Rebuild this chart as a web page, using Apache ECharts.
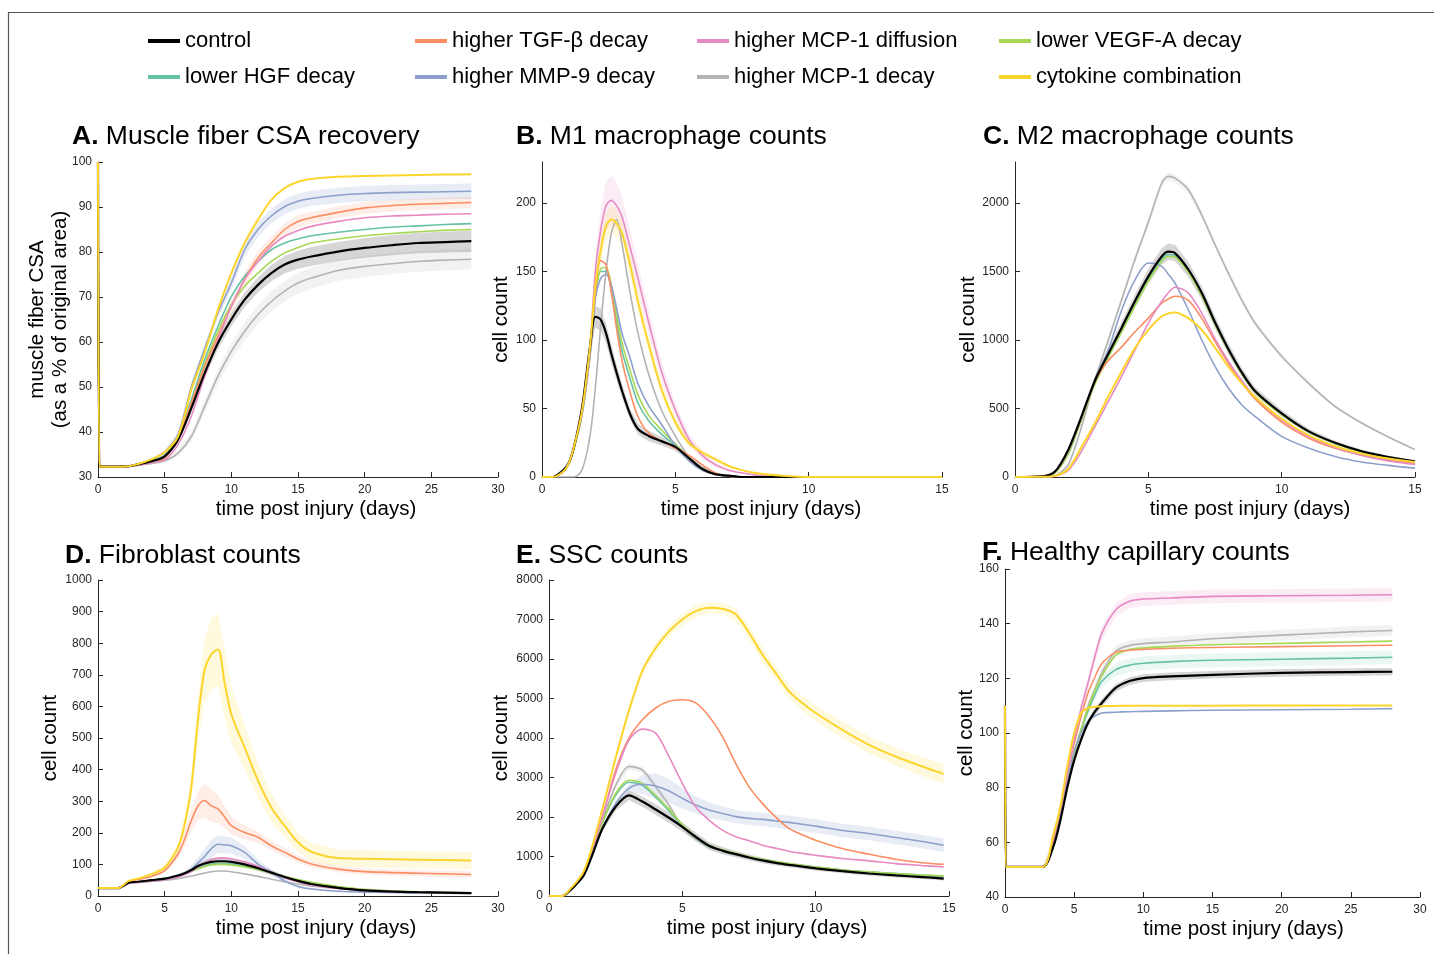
<!DOCTYPE html>
<html lang="en">
<head>
<meta charset="UTF-8">
<title>Cytokine perturbations: six outputs</title>
<script src="https://cdn.jsdelivr.net/npm/echarts@6/dist/echarts.min.js"></script>
<style>
  html, body { margin: 0; padding: 0; background: #fff; }
  #chart { width: 1434px; height: 954px; }
</style>
</head>
<body>
<div id="chart"></div>
<script type="text/javascript">
// series names / colours, in legend order
var seriesNames = ['control', 'higher TGF-β decay', 'higher MCP-1 diffusion', 'lower VEGF-A decay',
                   'lower HGF decay', 'higher MMP-9 decay', 'higher MCP-1 decay', 'cytokine combination'];
var seriesColors = ['#000000', '#fc8d62', '#e78ac3', '#a6d854', '#66c2a5', '#8da0cb', '#b3b3b3', '#fcd52c'];
var bandColors = ['rgba(0,0,0,0.16)', 'rgba(252,141,98,0.15)', 'rgba(231,138,195,0.16)', 'rgba(166,216,84,0.15)',
                  'rgba(102,194,165,0.13)', 'rgba(141,160,203,0.2)', 'rgba(150,170,150,0.14)', 'rgba(255,217,47,0.16)'];
// back to front
var drawOrder = [6, 4, 3, 5, 1, 2, 0, 7];

var panelTitles = ['A.|Muscle fiber CSA recovery', 'B.|M1 macrophage counts', 'C.|M2 macrophage counts',
                   'D.|Fibroblast counts', 'E.|SSC counts', 'F.|Healthy capillary counts'];
var xName = 'time post injury (days)';
var yNames = ['muscle fiber CSA\n(as a % of original area)', 'cell count', 'cell count', 'cell count', 'cell count', 'cell count'];

// ---- A. muscle fiber CSA
var aDays      = [0, 0.1, 0.2, 2, 3, 4, 5, 6, 7, 8, 9, 10, 11, 12, 13, 14, 15, 16, 18, 20, 22, 24, 26, 28];
var aControl   = [100, 32.3, 32.3, 32.3, 32.8, 33.5, 34.6, 38.3, 45.3, 53.1, 59.8, 65.0, 69.4, 72.7, 75.3, 77.2, 78.3, 79.0, 80.1, 80.9, 81.5, 82.0, 82.2, 82.4];
var aTgf       = [100, 32.3, 32.3, 32.3, 32.8, 33.4, 34.2, 38.7, 46.4, 54.6, 61.3, 67.9, 73.9, 78.7, 82.0, 85.0, 86.8, 87.6, 88.8, 89.8, 90.3, 90.6, 90.8, 91.0];
var aMcpDiff   = [100, 32.3, 32.3, 32.3, 32.6, 33.2, 33.8, 37.2, 43.5, 52.4, 60.5, 67.9, 73.9, 77.9, 81.3, 83.5, 84.8, 85.7, 86.8, 87.6, 88.0, 88.2, 88.4, 88.5];
var aVegf      = [100, 32.3, 32.3, 32.3, 32.8, 33.5, 34.6, 38.7, 46.4, 55.0, 62.4, 68.3, 72.4, 75.3, 77.9, 79.8, 81.0, 82.0, 82.9, 83.6, 84.1, 84.5, 84.8, 85.0];
var aHgf       = [100, 32.3, 32.3, 32.3, 32.8, 33.6, 34.8, 39.0, 47.2, 56.1, 63.5, 70.1, 74.6, 77.9, 80.5, 82.0, 82.9, 83.6, 84.4, 85.0, 85.5, 85.8, 86.1, 86.3];
var aMmp       = [100, 32.3, 32.3, 32.3, 32.9, 33.9, 35.6, 39.5, 50.0, 58.5, 66.5, 73.1, 80.5, 85.0, 88.0, 90.1, 91.3, 91.9, 92.6, 93.0, 93.2, 93.3, 93.4, 93.5];
var aMcpDecay  = [100, 32.3, 32.3, 32.3, 32.6, 33.0, 33.6, 35.3, 39.0, 45.7, 52.4, 57.9, 62.4, 66.1, 69.0, 71.3, 73.1, 74.2, 75.9, 76.8, 77.4, 77.9, 78.2, 78.4];
var aCombo     = [100, 32.3, 32.3, 32.3, 32.9, 33.9, 35.5, 39.0, 49.4, 57.6, 67.2, 75.3, 82.0, 87.2, 91.6, 94.2, 95.6, 96.2, 96.7, 96.9, 97.0, 97.1, 97.2, 97.3];
var aBandControl  = [0, 0, 0, 0, 0.2, 0.3, 0.5, 0.8, 1.0, 1.2, 1.4, 1.5, 1.6, 1.7, 1.8, 1.9, 2.0, 2.1, 2.1, 2.2, 2.2, 2.3, 2.3, 2.4];
var aBandMcpDecay = [0, 0, 0, 0, 0.2, 0.3, 0.5, 0.8, 1.1, 1.4, 1.6, 1.8, 2.0, 2.1, 2.2, 2.2, 2.3, 2.3, 2.3, 2.3, 2.3, 2.3, 2.3, 2.3];
var aBandMmp      = [0, 0, 0, 0, 0.1, 0.2, 0.3, 0.5, 0.8, 1.0, 1.2, 1.4, 1.5, 1.6, 1.6, 1.7, 1.7, 1.7, 1.7, 1.7, 1.7, 1.7, 1.7, 1.7];
var aBandTgf      = [0, 0, 0, 0, 0.1, 0.2, 0.3, 0.6, 0.9, 1.1, 1.3, 1.5, 1.6, 1.6, 1.5, 1.4, 1.4, 1.3, 1.3, 1.3, 1.3, 1.3, 1.3, 1.3];

// ---- B. M1 macrophages
var bDays      = [0, 0.4, 0.8, 1.0, 1.2, 1.5, 1.8, 2.0, 2.2, 2.4, 2.6, 2.8, 3.0, 3.3, 3.6, 4.0, 4.5, 5.0, 5.5, 6.0, 6.5, 7.0, 7.5, 8.0, 9.0, 10, 15];
var bControl   = [0, 0, 5, 10, 22, 50, 95, 117, 115, 105, 90, 76, 63, 46, 35, 30, 26, 22, 14, 6, 2, 1, 0, 0, 0, 0, 0];
var bTgf       = [0, 0, 4, 10, 22, 48, 92, 135, 158, 155, 135, 108, 85, 62, 44, 32, 26, 21, 16, 9, 3, 0.5, 0, 0, 0, 0, 0];
var bMcpDiff   = [0, 0, 4, 10, 22, 48, 95, 150, 180, 198, 202, 198, 190, 168, 145, 113, 76, 49, 28, 16, 9, 5, 3, 1.5, 0.5, 0, 0];
var bVegf      = [0, 0, 4, 10, 21, 46, 90, 133, 152, 153, 140, 118, 98, 78, 60, 45, 34, 24, 14, 6, 2, 0.5, 0, 0, 0, 0, 0];
var bHgf       = [0, 0, 4, 10, 21, 46, 90, 132, 150, 150, 136, 113, 92, 72, 54, 41, 31, 23, 14, 6, 2, 0.5, 0, 0, 0, 0, 0];
var bMmp       = [0, 0, 4, 10, 21, 45, 88, 130, 145, 148, 140, 123, 105, 87, 68, 52, 38, 23, 12, 5, 2, 0.5, 0, 0, 0, 0, 0];
var bMcpDecay  = [0, 0, 0, 0, 0, 5, 30, 65, 110, 150, 178, 188, 170, 135, 105, 75, 48, 30, 15, 7, 3, 1, 0, 0, 0, 0, 0];
var bCombo     = [0, 0, 4, 10, 22, 48, 95, 140, 165, 183, 188, 185, 178, 155, 128, 97, 63, 40, 25, 18, 13, 8, 5, 3, 1, 0, 0];
var bBandMcpDiff = [0, 0, 0, 1, 2, 4, 8, 12, 15, 18, 18, 17, 15, 13, 11, 9, 7, 5, 4, 3, 2, 1, 0, 0, 0, 0, 0];
var bBandControl = [0, 0, 1, 2, 3, 5, 7, 8, 8, 7, 7, 6, 5, 4, 4, 4, 3, 3, 2, 2, 1, 0, 0, 0, 0, 0, 0];
var bBandCombo   = [0, 0, 0, 1, 2, 3, 5, 8, 10, 10, 10, 10, 9, 8, 7, 6, 5, 4, 3, 2, 2, 1, 0, 0, 0, 0, 0];
var bTicks = [0, 50, 100, 150, 200];

// ---- C. M2 macrophages
var cDays      = [0, 1.0, 1.5, 2.0, 2.5, 3.0, 3.5, 4.0, 4.5, 5.0, 5.5, 5.75, 6.0, 6.5, 7.0, 7.5, 8.0, 8.5, 9.0, 10, 11, 12, 13, 14, 15];
var cControl   = [0, 5, 40, 200, 445, 705, 900, 1090, 1285, 1465, 1610, 1645, 1635, 1515, 1345, 1130, 935, 765, 628, 465, 335, 250, 188, 146, 114];
var cTgf       = [0, 5, 40, 195, 440, 700, 850, 950, 1060, 1160, 1270, 1300, 1320, 1290, 1160, 990, 830, 690, 570, 400, 285, 210, 160, 124, 100];
var cMcpDiff   = [0, 1, 8, 50, 190, 370, 552, 735, 929, 1124, 1282, 1345, 1385, 1343, 1197, 1010, 845, 705, 585, 415, 295, 215, 158, 118, 92];
var cVegf      = [0, 4, 30, 170, 420, 680, 875, 1060, 1250, 1430, 1575, 1610, 1605, 1495, 1325, 1115, 925, 755, 620, 455, 330, 245, 183, 140, 108];
var cHgf       = [0, 4, 32, 175, 425, 690, 885, 1070, 1260, 1445, 1590, 1625, 1618, 1505, 1335, 1120, 928, 758, 622, 458, 332, 246, 184, 141, 110];
var cMmp       = [0, 5, 40, 190, 440, 700, 930, 1220, 1440, 1562, 1538, 1480, 1416, 1221, 1002, 808, 650, 528, 443, 297, 212, 150, 110, 85, 65];
var cMcpDecay  = [0, 1, 10, 90, 370, 710, 1000, 1295, 1590, 1860, 2145, 2195, 2182, 2097, 1915, 1696, 1489, 1294, 1124, 881, 686, 516, 394, 292, 200];
var cCombo     = [0, 1, 8, 60, 220, 394, 589, 771, 942, 1075, 1173, 1195, 1202, 1160, 1075, 945, 805, 685, 585, 425, 305, 225, 170, 135, 110];
var cBandControl  = [0, 2, 5, 15, 25, 35, 40, 45, 50, 55, 60, 60, 60, 55, 50, 45, 40, 35, 30, 25, 20, 15, 12, 10, 8];
var cBandMcpDecay = [0, 1, 3, 10, 20, 25, 30, 30, 30, 30, 30, 30, 30, 30, 28, 26, 24, 22, 20, 18, 15, 12, 10, 8, 6];
var cTicks = [0, 500, 1000, 1500, 2000];

// ---- D. fibroblasts
var dDays      = [0, 1.5, 2.3, 3, 4, 5, 6, 6.5, 7, 7.5, 8, 8.5, 9, 9.5, 10, 11, 12, 13, 14, 15, 16, 18, 20, 24, 28];
var dControl   = [25, 25, 42, 45, 50, 55, 65, 72, 82, 95, 103, 108, 110, 110, 108, 100, 88, 74, 60, 48, 38, 26, 18, 12, 9];
var dTgf       = [25, 25, 45, 52, 62, 80, 133, 180, 239, 285, 302, 285, 276, 250, 223, 201, 186, 159, 138, 117, 101, 85, 77, 72, 68];
var dMcpDiff   = [25, 25, 40, 43, 47, 52, 60, 68, 78, 92, 105, 115, 120, 120, 118, 108, 93, 75, 58, 45, 35, 24, 18, 12, 9];
var dVegf      = [25, 25, 42, 45, 50, 55, 64, 70, 78, 86, 93, 98, 100, 100, 98, 92, 84, 73, 62, 52, 43, 30, 21, 13, 10];
var dHgf       = [25, 25, 42, 45, 50, 55, 65, 71, 80, 88, 96, 101, 103, 103, 101, 94, 85, 74, 62, 51, 42, 29, 20, 13, 10];
var dMmp       = [25, 25, 42, 45, 48, 52, 62, 70, 85, 105, 125, 150, 164, 162, 159, 138, 101, 75, 48, 30, 22, 15, 12, 10, 8];
var dMcpDecay  = [25, 25, 40, 43, 46, 50, 55, 59, 63, 68, 73, 77, 79, 79, 77, 70, 62, 53, 45, 38, 32, 24, 17, 12, 9];
var dCombo     = [25, 25, 48, 55, 69, 90, 154, 228, 345, 560, 716, 765, 780, 673, 575, 470, 365, 280, 222, 170, 140, 120, 118, 115, 112];
var dBandCombo   = [0, 0, 2, 3, 5, 8, 15, 25, 40, 70, 100, 115, 115, 105, 90, 70, 55, 45, 35, 30, 28, 27, 27, 27, 27];
var dBandTgf     = [0, 0, 2, 3, 4, 6, 15, 25, 35, 45, 55, 50, 45, 35, 28, 22, 18, 15, 13, 12, 11, 10, 10, 10, 10];
var dBandMmp     = [0, 0, 1, 2, 3, 4, 6, 8, 12, 18, 25, 28, 28, 27, 25, 20, 14, 10, 6, 4, 3, 2, 2, 2, 2];
var dBandControl = [0, 0, 1, 2, 3, 3, 5, 6, 7, 8, 10, 12, 12, 12, 11, 10, 9, 8, 6, 5, 4, 3, 3, 2, 2];

// ---- E. SSCs
var eDays      = [0, 0.5, 0.8, 1.0, 1.3, 1.6, 2.0, 2.5, 3.0, 3.5, 4.0, 4.5, 5.0, 5.5, 6.0, 6.5, 7, 7.5, 8, 8.5, 9, 9.5, 10, 11, 12, 13, 14, 14.8];
var eControl   = [0, 0, 150, 280, 520, 1000, 1700, 2260, 2550, 2390, 2190, 1980, 1750, 1500, 1270, 1150, 1060, 975, 900, 840, 790, 745, 700, 630, 570, 520, 480, 440];
var eTgf       = [0, 0, 160, 300, 560, 1100, 2000, 3190, 4000, 4460, 4760, 4930, 4970, 4890, 4550, 4040, 3360, 2770, 2345, 2000, 1710, 1550, 1414, 1200, 1058, 931, 840, 800];
var eMcpDiff   = [0, 0, 160, 300, 560, 1100, 2000, 3100, 3950, 4225, 4124, 3530, 2853, 2261, 1922, 1668, 1500, 1400, 1287, 1210, 1135, 1080, 1033, 950, 889, 820, 770, 737];
var eVegf      = [0, 0, 150, 290, 540, 1050, 1850, 2600, 2930, 2850, 2550, 2200, 1800, 1500, 1280, 1170, 1080, 1000, 930, 870, 820, 775, 730, 660, 610, 570, 530, 510];
var eHgf       = [0, 0, 150, 290, 540, 1050, 1850, 2550, 2880, 2800, 2500, 2150, 1780, 1480, 1260, 1150, 1060, 985, 920, 862, 810, 770, 730, 660, 610, 570, 530, 500];
var eMmp       = [0, 0, 150, 280, 520, 980, 1700, 2345, 2727, 2828, 2786, 2659, 2472, 2303, 2176, 2091, 2010, 1965, 1939, 1900, 1863, 1815, 1770, 1660, 1583, 1480, 1380, 1287];
var eMcpDecay  = [0, 0, 150, 290, 540, 1050, 1900, 2800, 3277, 3192, 2769, 2300, 1753, 1450, 1245, 1140, 1050, 970, 900, 845, 800, 760, 720, 650, 600, 560, 520, 490];
var eCombo     = [0, 0, 180, 330, 620, 1200, 2200, 3500, 4700, 5700, 6280, 6700, 7000, 7210, 7300, 7270, 7130, 6664, 6113, 5648, 5182, 4886, 4632, 4208, 3827, 3531, 3277, 3091];
var eBandCombo    = [0, 0, 0, 10, 20, 40, 60, 80, 100, 120, 130, 140, 150, 150, 150, 150, 160, 170, 180, 180, 180, 190, 200, 210, 220, 230, 240, 250];
var eBandMmp      = [0, 0, 0, 0, 10, 20, 40, 60, 100, 250, 320, 300, 260, 220, 200, 180, 170, 170, 170, 170, 170, 170, 170, 170, 170, 170, 170, 170];
var eBandControl  = [0, 0, 5, 10, 20, 40, 70, 100, 120, 130, 130, 130, 120, 110, 100, 90, 80, 75, 70, 65, 60, 60, 60, 55, 55, 50, 50, 50];
var eBandMcpDecay = [0, 0, 5, 10, 20, 30, 50, 70, 80, 80, 80, 75, 70, 60, 55, 50, 45, 40, 40, 35, 35, 35, 30, 30, 30, 30, 30, 30];

// ---- F. healthy capillaries
var fDays      = [0, 0.05, 0.1, 2.7, 3.5, 4, 4.5, 5, 5.5, 6, 6.5, 7, 8, 9, 10, 12, 15, 20, 25, 28];
var fControl   = [110, 51, 51, 51, 58.5, 68, 80, 90, 97.6, 103.7, 107.8, 111, 116.5, 119, 120.1, 120.7, 121.3, 122, 122.3, 122.4];
var fTgf       = [110, 51, 51, 51, 61, 72, 85, 96, 106, 114.6, 120.5, 125.4, 129.5, 130.3, 130.6, 131, 131.3, 131.6, 131.9, 132.1];
var fMcpDiff   = [110, 51, 51, 51, 62, 72, 85, 97.6, 109, 118.3, 128, 136.5, 145, 148.2, 149, 149.4, 150, 150.2, 150.4, 150.6];
var fVegf      = [110, 51, 51, 51, 60, 70, 82, 92, 101, 109, 115.5, 121, 128.5, 130.5, 131.1, 131.7, 132.3, 132.8, 133.3, 133.6];
var fHgf       = [110, 51, 51, 51, 60, 70, 82, 93, 101, 108, 114, 118.9, 123.2, 124.8, 125.5, 126.1, 126.6, 127, 127.4, 127.7];
var fMmp       = [110, 51, 51, 51, 60, 70, 82, 93, 100, 104.3, 106.2, 107.3, 107.6, 107.8, 107.9, 108.1, 108.3, 108.5, 108.7, 108.9];
var fMcpDecay  = [110, 51, 51, 51, 60, 70, 82, 92, 101, 109.8, 116, 122, 129.9, 132, 132.7, 133.3, 134.5, 135.8, 137, 137.5];
var fCombo     = [110, 51, 51, 51, 63, 73, 87.8, 100, 107.3, 109.1, 109.6, 109.8, 109.9, 110, 110, 110, 110, 110.1, 110.1, 110.1];
var fBandMcpDiff  = [0, 0, 0, 0, 0.5, 1, 1.5, 2, 2.2, 2.4, 2.5, 2.5, 2.5, 2.5, 2.5, 2.5, 2.5, 2.5, 2.5, 2.5];
var fBandControl  = [0, 0, 0, 0, 0.5, 0.8, 1, 1.2, 1.3, 1.4, 1.4, 1.4, 1.4, 1.4, 1.4, 1.4, 1.4, 1.4, 1.4, 1.4];
var fBandMcpDecay = [0, 0, 0, 0, 0.5, 0.8, 1, 1.4, 1.6, 1.8, 2, 2, 2, 2, 2, 2, 2, 2, 2, 2];
var fBandHgf      = [0, 0, 0, 0, 0.5, 0.8, 1, 1.4, 1.6, 1.8, 2, 2.2, 2.4, 2.5, 2.5, 2.5, 2.5, 2.5, 2.5, 2.5];

var panels = [
    { days: aDays, lines: [aControl, aTgf, aMcpDiff, aVegf, aHgf, aMmp, aMcpDecay, aCombo],
      bands: [[6, aBandMcpDecay], [0, aBandControl], [1, aBandTgf], [5, aBandMmp]] },
    { days: bDays, lines: [bControl, bTgf, bMcpDiff, bVegf, bHgf, bMmp, bMcpDecay, bCombo],
      bands: [[0, bBandControl], [2, bBandMcpDiff], [7, bBandCombo]] },
    { days: cDays, lines: [cControl, cTgf, cMcpDiff, cVegf, cHgf, cMmp, cMcpDecay, cCombo],
      bands: [[6, cBandMcpDecay], [0, cBandControl]] },
    { days: dDays, lines: [dControl, dTgf, dMcpDiff, dVegf, dHgf, dMmp, dMcpDecay, dCombo],
      bands: [[0, dBandControl], [5, dBandMmp], [1, dBandTgf], [7, dBandCombo]] },
    { days: eDays, lines: [eControl, eTgf, eMcpDiff, eVegf, eHgf, eMmp, eMcpDecay, eCombo],
      bands: [[6, eBandMcpDecay], [0, eBandControl], [5, eBandMmp], [7, eBandCombo]] },
    { days: fDays, lines: [fControl, fTgf, fMcpDiff, fVegf, fHgf, fMmp, fMcpDecay, fCombo],
      bands: [[4, fBandHgf], [6, fBandMcpDecay], [0, fBandControl], [2, fBandMcpDiff]] }
];

// layout (pixels) and axis ranges
var boxes = [
    { left: 98,   top: 162, width: 400, height: 315 },
    { left: 542,  top: 162, width: 400, height: 315 },
    { left: 1015, top: 162, width: 400, height: 315 },
    { left: 98,   top: 580, width: 400, height: 316 },
    { left: 549,  top: 580, width: 400, height: 316 },
    { left: 1005, top: 569, width: 415, height: 328 }
];
var xRanges = [[0, 30, 5], [0, 15, 5], [0, 15, 5], [0, 30, 5], [0, 15, 5], [0, 30, 5]];
var yRanges = [[30, 100, 10], [0, 230, 50], [0, 2300, 500], [0, 1000, 100], [0, 8000, 1000], [40, 160, 20]];
var yCustom = [null, bTicks, cTicks, null, null, null];
var titlePos = [[72, 123], [516, 123], [983, 123], [65, 542], [516, 542], [982, 539]];
var xNameShift = [36, 38, 70, 36, 36, 62];
var yNameGap = [26, 29, 35, 36, 36, 27];
var smoothing = [0.3, 0.3, 0.3, 0.3, 0.3, 0.3];

var ink = '#262626';
var font = 'Liberation Sans, Arial, Helvetica, sans-serif';

function bandSeries(gi, xs, ys, ws, color) {
    var lo = ys.map(function (y, i) { return y - ws[i]; });
    var hi = ys.map(function (y, i) { return y + ws[i]; });
    return {
        type: 'custom', xAxisIndex: gi, yAxisIndex: gi, silent: true, z: 1,
        data: xs.map(function (x, i) { return [x, lo[i], hi[i]]; }),
        encode: { x: 0, y: [1, 2] },
        renderItem: function (params, api) {
            if (params.dataIndex !== 0) return null;
            var top = xs.map(function (x, i) { return api.coord([x, hi[i]]); });
            var bot = xs.map(function (x, i) { return api.coord([x, lo[i]]); }).reverse();
            return { type: 'polygon', shape: { points: top.concat(bot) }, style: { fill: color } };
        }
    };
}

function plainNumber(v) { return String(v); }

var grids = [], xAxes = [], yAxes = [], titles = [], series = [];
panels.forEach(function (p, gi) {
    grids.push(Object.assign({ containLabel: false, outerBoundsMode: 'none' }, boxes[gi]));
    var tp = panelTitles[gi].split('|');
    titles.push({
        text: '{b|' + tp[0] + '} ' + tp[1], left: titlePos[gi][0], top: titlePos[gi][1], padding: 0,
        textStyle: { fontSize: 26.5, fontWeight: 'normal', color: '#000', fontFamily: font,
                     rich: { b: { fontSize: 26.5, fontWeight: 'bold', color: '#000', fontFamily: font } } }
    });
    xAxes.push({
        type: 'value', gridIndex: gi, min: xRanges[gi][0], max: xRanges[gi][1], interval: xRanges[gi][2],
        name: xName, nameLocation: 'middle', nameGap: 22,
        nameTextStyle: { fontSize: 20.5, color: '#000', fontFamily: font, padding: [0, 0, 0, xNameShift[gi]] },
        axisLine: { show: true, lineStyle: { color: ink, width: 1 } },
        axisTick: { inside: true, length: 5, lineStyle: { color: ink } },
        axisLabel: { color: ink, fontSize: 12, fontFamily: font, margin: 7, formatter: plainNumber },
        splitLine: { show: false }
    });
    var ya = {
        type: 'value', gridIndex: gi, min: yRanges[gi][0], max: yRanges[gi][1], interval: yRanges[gi][2],
        name: yNames[gi], nameLocation: 'middle', nameGap: yNameGap[gi], nameMoveOverlap: false,
        nameTextStyle: { fontSize: 20.5, lineHeight: 23, color: '#000', fontFamily: font },
        axisLine: { show: true, lineStyle: { color: ink, width: 1 } },
        axisTick: { inside: true, length: 5, lineStyle: { color: ink } },
        axisLabel: { color: ink, fontSize: 12, fontFamily: font, margin: 6, formatter: plainNumber },
        splitLine: { show: false }
    };
    if (yCustom[gi]) {
        ya.axisLabel.customValues = yCustom[gi];
        ya.axisTick.customValues = yCustom[gi];
    }
    yAxes.push(ya);

    p.bands.forEach(function (b) {
        series.push(bandSeries(gi, p.days, p.lines[b[0]], b[1], bandColors[b[0]]));
    });
    drawOrder.forEach(function (k) {
        series.push({
            type: 'line', name: seriesNames[k], xAxisIndex: gi, yAxisIndex: gi,
            data: p.days.map(function (d, i) { return [d, p.lines[k][i]]; }),
            showSymbol: false, smooth: smoothing[gi], z: 3,
            color: seriesColors[k],
            lineStyle: { color: seriesColors[k], width: k === 0 ? 2.2 : (k === 7 ? 2 : 1.6) }
        });
    });
});

var legendCols = [
    { left: 148, data: ['control', 'lower HGF decay'] },
    { left: 415, data: ['higher TGF-β decay', 'higher MMP-9 decay'] },
    { left: 697, data: ['higher MCP-1 diffusion', 'higher MCP-1 decay'] },
    { left: 999, data: ['lower VEGF-A decay', 'cytokine combination'] }
];
var legends = legendCols.map(function (c) {
    return {
        left: c.left, top: 30, orient: 'vertical', data: c.data, selectedMode: false,
        icon: 'rect', itemWidth: 32, itemHeight: 4, itemGap: 14, padding: 0,
        textStyle: { fontSize: 22, color: '#000', fontFamily: font }
    };
});

var chart = echarts.init(document.getElementById('chart'));
chart.setOption({
    animation: false,
    backgroundColor: '#fff',
    textStyle: { fontFamily: font },
    graphic: [{ type: 'rect', silent: true, shape: { x: 8.5, y: 12.5, width: 1500, height: 1000 },
                style: { fill: null, stroke: '#555', lineWidth: 1.2 } }],
    title: titles,
    legend: legends,
    grid: grids,
    xAxis: xAxes,
    yAxis: yAxes,
    series: series
});
</script>
</body>
</html>
